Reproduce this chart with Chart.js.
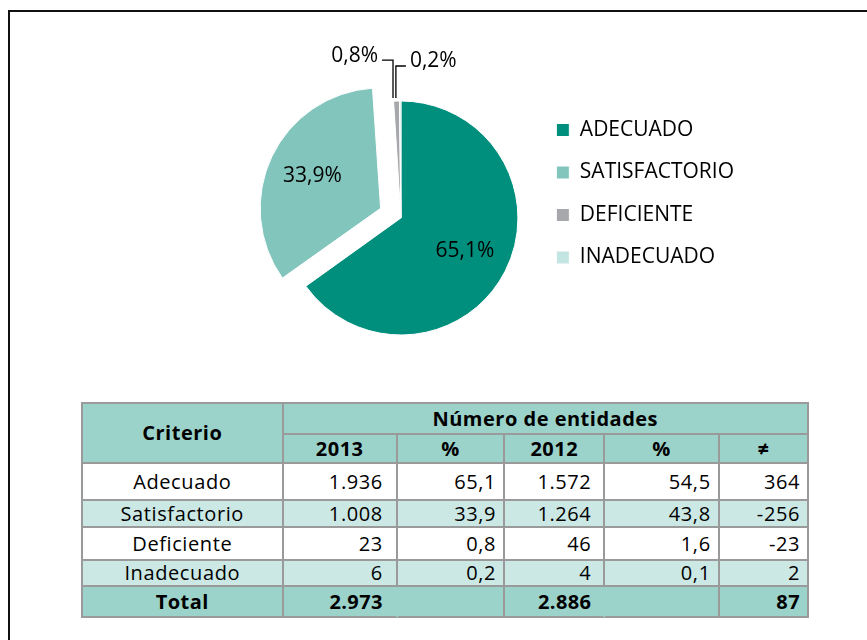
<!DOCTYPE html>
<html>
<head>
<meta charset="utf-8">
<script src="https://cdn.jsdelivr.net/npm/chart.js@4.4.1/dist/chart.umd.min.js"></script>
<style>
  body { margin: 0; width: 867px; height: 640px; overflow: hidden; background: #fff; position: relative; font-family: 'Open Sans', sans-serif; }
  #frame { position: absolute; left: 8px; top: 10px; width: 900px; height: 700px; border-left: 2px solid #111; border-top: 2px solid #111; }
  #pie { position: absolute; left: 0; top: 0; }
  #tabla { position: absolute; left: 81px; top: 402px; border-collapse: separate; border-spacing: 0; table-layout: fixed; width: 728px;
           border-top: 2px solid #9a9a9a; border-left: 2px solid #9a9a9a; color: #000; }
  #tabla td, #tabla th { border-right: 2px solid #9a9a9a; border-bottom: 2px solid #9a9a9a; padding: 0; font-size: 20px; line-height: 1; }
  #tabla th { background: #9bd3cb; font-weight: 700; text-align: center; letter-spacing: 0.5px; }
  #tabla td { text-align: right; letter-spacing: 0.6px; }
  #tabla td.crit { text-align: center; }
  #tabla tr.band td { background: #cbe8e4; }
  #tabla tr.total td { background: #9bd3cb; font-weight: 700; letter-spacing: 0.4px; }
  #tabla td.nosep { border-right-color: #9bd3cb; }
</style>
</head>
<body>
<div id="frame"></div>
<canvas id="pie" width="867" height="340"></canvas>
<table id="tabla"></table>
<script>
// datos del grafico / tabla
const legendLabels = ['ADECUADO', 'SATISFACTORIO', 'DEFICIENTE', 'INADECUADO'];
const criterios = ['Adecuado', 'Satisfactorio', 'Deficiente', 'Inadecuado'];
const entidades2013 = [1936, 1008, 23, 6];
const pct2013 = [65.1, 33.9, 0.8, 0.2];
const entidades2012 = [1572, 1264, 46, 4];
const pct2012 = [54.5, 43.8, 1.6, 0.1];
const diferencia = [364, -256, -23, 2];
const totales = [2973, 2886, 87];
const sliceColors = ['#008f7c', '#82c5bd', '#a7a8ab', '#c3e5e1'];

const fmtNum = n => String(n).replace(/\B(?=(\d{3})+(?!\d))/g, '.');
const fmtDec = v => v.toFixed(1).replace('.', ',');

// etiquetas de porcentaje, con lineas guia para los sectores pequeños
const sliceLabels = {
    id: 'sliceLabels',
    afterDatasetsDraw(chart, args, opts) {
        const ctx = chart.ctx;
        const meta = chart.getDatasetMeta(0);
        const offsets = chart.data.datasets[0].offset;
        ctx.save();
        ctx.font = '21px "Open Sans"';
        ctx.fillStyle = '#000';
        ctx.strokeStyle = '#000';
        ctx.lineWidth = 1.3;
        ctx.textBaseline = 'middle';
        meta.data.forEach((arc, i) => {
            const p = arc.getProps(['x', 'y', 'startAngle', 'endAngle', 'outerRadius'], true);
            const mid = (p.startAngle + p.endAngle) / 2;
            const text = fmtDec(pct2013[i]) + '%';
            const c = opts.callouts[i];
            if (!c) {
                // same shift the arc element applies for its offset
                const o = (offsets[i] || 0) / 4;
                const shift = o * (2 - Math.sin(Math.min(Math.PI, p.endAngle - p.startAngle)));
                const d = shift + p.outerRadius * opts.labelRadius;
                ctx.textAlign = 'center';
                ctx.fillText(text, p.x + Math.cos(mid) * d, p.y + Math.sin(mid) * d);
                return;
            }
            const ex = p.x + Math.cos(mid) * p.outerRadius + c.dx;
            const ey = p.y + Math.sin(mid) * p.outerRadius - c.gap;
            const ky = ey - c.rise;
            const kx = ex + c.run * c.dir;
            ctx.beginPath();
            ctx.moveTo(ex, ey);
            ctx.lineTo(ex, ky);
            ctx.lineTo(kx, ky);
            ctx.stroke();
            ctx.textAlign = c.dir < 0 ? 'right' : 'left';
            ctx.fillText(text, kx + 4 * c.dir, ky - c.lift);
        });
        ctx.restore();
    }
};

Chart.defaults.font.family = "'Open Sans', sans-serif";

new Chart(document.getElementById('pie'), {
    type: 'pie',
    data: {
        labels: legendLabels,
        datasets: [{
            data: pct2013,
            backgroundColor: sliceColors,
            borderColor: '#fff',
            borderWidth: 1,
            offset: [0, 90, 0, 0]
        }]
    },
    options: {
        responsive: false,
        animation: false,
        radius: 117,
        layout: { padding: { top: 98, bottom: 2, left: 267, right: 123 } },
        plugins: {
            tooltip: { enabled: false },
            legend: {
                position: 'right',
                align: 'start',
                labels: {
                    boxWidth: 13,
                    boxHeight: 13,
                    padding: 21.5,
                    color: '#000',
                    font: { size: 21 }
                }
            },
            sliceLabels: {
                labelRadius: 0.615,
                callouts: {
                    2: { dx: -3.5, gap: 3, rise: 38, run: 11, dir: -1, lift: 4 },
                    3: { dx: -4.3, gap: 3, rise: 32, run: 10, dir: 1, lift: 5 }
                }
            }
        }
    },
    plugins: [sliceLabels]
});

// tabla de resumen
const colWidths = [200, 114, 107, 100, 114, 89];
const rowHeights = [37, 27, 33, 26];
const padRight = [0, 13, 7, 12, 7, 7];
const tabla = document.getElementById('tabla');
let html = '<colgroup>' + colWidths.map(w => `<col style="width:${w}px">`).join('') + '</colgroup>';
html += '<tr style="height:31px"><th rowspan="2">Criterio</th><th colspan="5">Número de entidades</th></tr>';
html += '<tr style="height:29px">' + ['2013', '%', '2012', '%', '≠'].map(h => `<th>${h}</th>`).join('') + '</tr>';
criterios.forEach((c, i) => {
    const cells = [fmtNum(entidades2013[i]), fmtDec(pct2013[i]), fmtNum(entidades2012[i]), fmtDec(pct2012[i]), fmtNum(diferencia[i])];
    html += `<tr class="${i % 2 ? 'band' : ''}" style="height:${rowHeights[i]}px"><td class="crit">${c}</td>` +
        cells.map((v, j) => `<td style="padding-right:${padRight[j + 1]}px">${v}</td>`).join('') + '</tr>';
});
html += '<tr class="total" style="height:31px"><td class="crit">Total</td>' +
    `<td class="nosep" style="padding-right:${padRight[1]}px">${fmtNum(totales[0])}</td><td></td>` +
    `<td class="nosep" style="padding-right:${padRight[3]}px">${fmtNum(totales[1])}</td><td></td>` +
    `<td style="padding-right:${padRight[5]}px">${fmtNum(totales[2])}</td></tr>`;
tabla.innerHTML = html;
</script>
</body>
</html>
